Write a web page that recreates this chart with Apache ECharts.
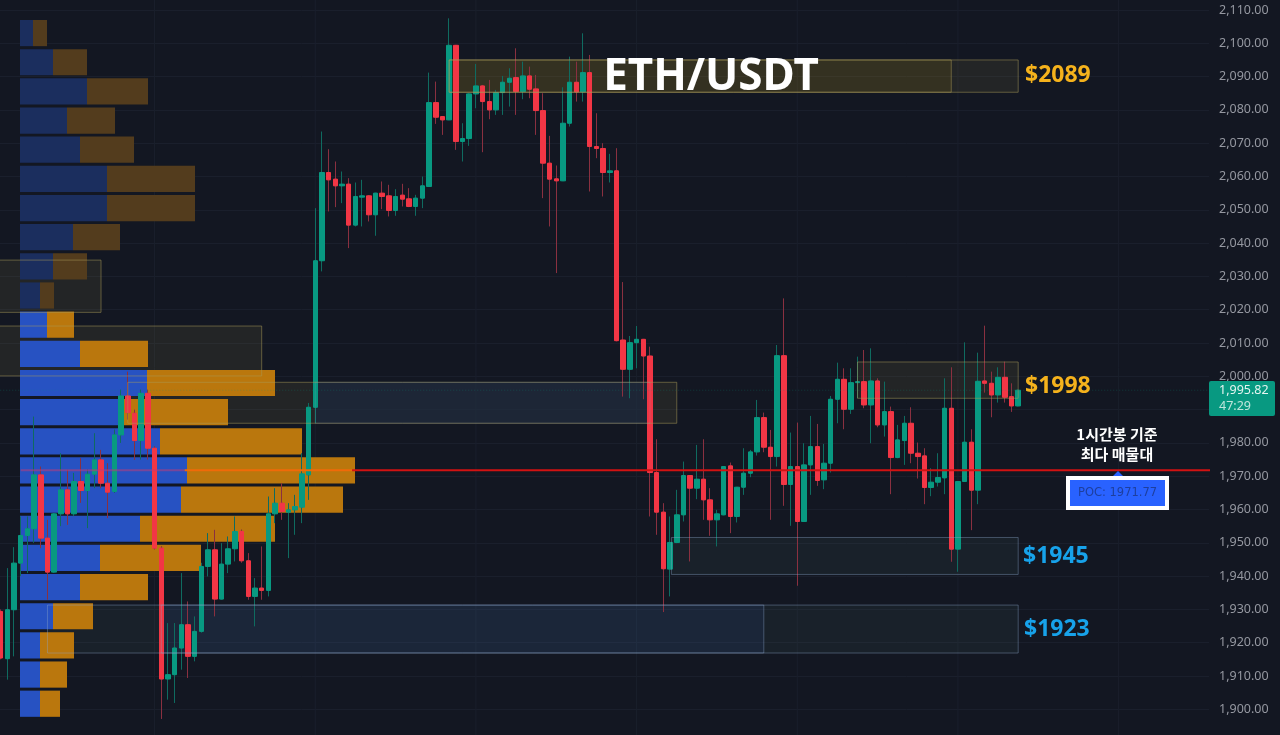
<!DOCTYPE html>
<html>
<head>
<meta charset="utf-8">
<style>html,body{margin:0;padding:0;background:#131722}#main{width:1280px;height:735px}</style>
<script src="https://cdn.jsdelivr.net/npm/echarts@6/dist/echarts.min.js"></script>
</head>
<body>
<div id="main"></div>
<script>
// 1h candles
var opens=[1929.4,1915.2,1929.9,1943.9,1952.2,1954.2,1970.4,1951.4,1941.2,1958.7,1965.9,1958.7,1968.4,1965.7,1970.6,1974.9,1967.9,1965.4,1982.4,1994.1,1988.9,1980.7,1994.9,1978.4,1948.4,1909.1,1910.4,1918.4,1925.4,1915.9,1923.4,1942.9,1947.9,1933.1,1943.6,1948.2,1953.4,1944.6,1933.9,1936.4,1935.7,1958.7,1961.9,1959.2,1959.9,1960.7,1970.4,1990.7,2034.7,2061.2,2059.2,2057.2,2057.7,2045.4,2053.8,2054.2,2048.5,2055,2054.2,2049.8,2054.4,2053.3,2051,2053.5,2057,2082.2,2078,2077,2099.4,2070.5,2071.4,2084.8,2087.2,2082.5,2080,2085.2,2088.3,2089.7,2085.5,2090.2,2086.3,2079.8,2064,2059.3,2058.7,2076,2088.3,2085.4,2091.2,2069,2068.4,2061.2,2061.7,2010.9,2002.1,2010.1,2011.1,2006.1,1971.1,1959.2,1942.1,1950.1,1958.4,1970.2,1966.4,1969.1,1962.9,1956.9,1958.4,1973.1,1957.9,1966.7,1970.9,1977.3,1987.6,1978.7,1975.9,2006.2,1967.5,1972.9,1956.4,1973.4,1978.9,1968.9,1973.9,1993.1,1999.1,1990.1,1998.1,1998.4,1991.4,1998.6,1985.4,1989.4,1975.6,1980.7,1985.9,1976.9,1976.1,1966.6,1968.2,1969.5,1990.4,1948.1,1968.4,1980.2,1965.8,1998.6,1997.9,1994.4,1999.7,1993.9,1991.1];
var closes=[1915.4,1929.9,1943.9,1952.2,1954.2,1970.4,1951.4,1941.2,1958.7,1965.9,1958.7,1968.4,1965.7,1970.6,1974.9,1967.9,1965.2,1982.4,1994.1,1989.1,1980.7,1994.9,1978.4,1948.4,1909.1,1910.4,1918.4,1925.4,1915.9,1923.4,1942.9,1947.9,1933.1,1943.6,1948.2,1953.4,1944.6,1933.9,1936.4,1935.7,1958.7,1961.9,1959.4,1959.9,1960.9,1970.7,1990.7,2034.7,2061.2,2059,2057.2,2057.7,2045.4,2054,2054.2,2048.5,2055,2054,2049.8,2054,2053.2,2051,2053.5,2057.2,2082.2,2077.8,2077,2099.4,2070.5,2071.4,2084.8,2087.2,2082.5,2080,2085.2,2088.3,2089.5,2085.5,2090.2,2086.2,2079.8,2064,2059.2,2058.7,2076,2088.3,2085.4,2091.2,2069,2068.4,2061.2,2061.7,2010.7,2002.1,2010.1,2011.1,2006.1,1971.1,1959.2,1942.2,1950.1,1958.4,1970.2,1966.4,1969.1,1962.9,1956.9,1958.7,1972.9,1957.9,1966.7,1970.9,1977.3,1987.6,1978.7,1975.9,2006.2,1967.5,1972.9,1956.4,1973.4,1978.9,1968.7,1973.9,1993.1,1999.1,1990.1,1998.1,1998.4,1991.4,1998.6,1985.4,1989.4,1975.6,1980.9,1985.9,1976.9,1975.9,1966.6,1968.2,1969.6,1990.4,1948.1,1968.4,1980.2,1965.8,1998.5,1997.9,1994.4,1999.7,1993.7,1991.1,1995.82];
var lows=[1915,1908.9,1915.9,1940,1940.9,1950,1948.4,1932.9,1941,1955,1955.4,1958,1962,1954.4,1966.4,1966.4,1957.4,1965,1980,1987,1974.9,1975,1975,1948,1897.1,1902.9,1901.9,1911.9,1909.4,1914.4,1923,1939.9,1927.9,1933,1940.9,1944.4,1944,1932.9,1924.9,1932.9,1933.9,1955.9,1956.9,1945.4,1952.4,1955.9,1962.9,1985.9,2031.5,2049.5,2050.8,2052,2038.5,2045,2045,2046.5,2042.2,2050.2,2048,2048.2,2051,2050.8,2048.2,2050.5,2057,2075.8,2072.5,2077,2068,2064.5,2069.2,2080.5,2067.3,2077.2,2078.5,2078.5,2081,2078.5,2083.2,2083.5,2072.5,2053.5,2045,2031,2058.7,2075,2082.5,2082.5,2055.5,2065.5,2054,2058.2,2010.5,1993.9,1993.4,2002.4,1993.1,1957.9,1952.4,1929.2,1933.9,1949.9,1956.4,1944.4,1963.1,1956.9,1952.1,1948.9,1958.3,1952.9,1956.1,1964.4,1969.7,1976.2,1977.2,1956.9,1972.9,1961.1,1955.1,1937.1,1956.3,1964.4,1967.1,1966.1,1971.1,1985.9,1984.1,1988.7,1993.4,1990.4,1979.9,1984.7,1981.9,1964.6,1975.4,1973.4,1973.9,1969.3,1961.6,1964,1966.9,1964.6,1944.3,1941.3,1968.3,1953.8,1961.6,1995.1,1987.7,1992.1,1992.1,1989.3,1991];
var highs=[1930,1942.4,1948.7,1957.9,1957.9,1987.9,1972.9,1956.9,1959,1976.9,1971.9,1971,1975.4,1972,1982.9,1977.9,1973.9,1984,1996,2001.4,1990,1996,1996,1979,1949,1925.9,1925.9,1940.9,1932.4,1927.9,1944,1952.9,1953.9,1949.9,1951.9,1957.9,1954,1946.9,1939.4,1948.9,1963.9,1966.4,1967.9,1961.9,1964.4,1976.9,1992,2050.5,2073.5,2068.2,2064.5,2061.5,2059.5,2058.2,2059,2054.4,2055,2058.5,2057.5,2056.2,2057.8,2056.5,2054.5,2060,2091.2,2088.5,2078,2107.5,2099.5,2076,2085,2093.8,2087.5,2089,2086,2090.2,2092.5,2098.5,2094.5,2093,2090.5,2085,2072.2,2063.3,2086.8,2096,2094.5,2103,2096.5,2079,2070,2066.8,2068.5,2028.3,2012.1,2015.1,2011.2,2008.9,1981.1,1961.9,1957.9,1965.9,1974.4,1970.2,1979.4,1981.1,1966.4,1959.9,1973,1974.1,1966.7,1978.4,1977.9,1992.9,1989.1,1983.9,2009.4,2023.4,1983.1,1986.1,1979.9,1988.1,1985.7,1979.7,1994.1,2004.1,2002.4,2002.4,2005.9,2007.9,2008.4,1999.4,1998.4,1990.9,1985.4,1988.1,1990.7,1980.1,1978.4,1972.4,1976.9,1999.4,2002.7,1968.5,2010.2,1984.1,2007.1,2015.2,2001.4,2002.7,2004.4,1997.9,1996];

// volume profile, top row first
var buyVol=[1.3,3.3,6.7,4.7,6,8.7,8.7,5.3,3.3,2,2.7,6,12.7,10.2,14,16.7,16.1,12,8,6,3.3,2,2,2];
var sellVol=[1.4,3.4,6.1,4.8,5.4,8.8,8.8,4.7,3.4,1.4,2.7,6.8,12.8,10.6,14.2,16.8,16.2,13.5,10.1,6.8,4,3.4,2.7,2];
var dimRows=10;

var yTicks=[2110,2100,2090,2080,2070,2060,2050,2040,2030,2020,2010,2000,1990,1980,1970,1960,1950,1940,1930,1920,1910,1900];
var sessionBars=[23,47,71,95,119,143,167];
var pocPrice=1971.77;
var lastPrice=1995.82;

// zones: start bar, end bar, top price, bottom price, kind (drawn in this order)
var zones=[
  [67,152,2095,2085.3,'yellow'],
  [67,142,2095,2085.3,'yellowInner'],
  [128,152,2004.3,1993.4,'yellow'],
  [-10,15,2034.9,2019.2,'yellow'],
  [-10,39,2015.1,2000.1,'yellow'],
  [19,101,1998.2,1985.9,'yellow'],
  [47,97,1998.2,1985.9,'blueMid'],
  [100.2,152,1951.6,1940.5,'blue'],
  [7,152,1931.3,1916.9,'blue'],
  [24,114,1931.3,1916.9,'blueInner']
];
var zoneFill={yellow:'rgba(150,135,70,.13)',yellowInner:'rgba(180,140,0,.12)',blue:'rgba(80,120,110,.11)',blueInner:'rgba(50,90,200,.1)',blueMid:'rgba(25,40,65,.6)'};
var zoneEdge={yellow:'rgba(170,155,90,.5)',yellowInner:'rgba(170,155,90,.5)',blue:'rgba(140,165,200,.4)',blueInner:'rgba(140,165,200,.4)',blueMid:'rgba(140,165,200,.2)'};
// poc line pieces in bar units: start, end, colour
var pocPieces=[[3,27.5,'rgba(190,60,120,.55)'],[27.5,52.5,'#f06a08'],[52.5,181,'#d21212']];

var categories=[];
for(var i=0;i<181;i++){categories.push(String(i));}
var rows=buyVol.map(function(v,i){return 'r'+i;});

var up='#089981',down='#f23645',upWick='#0f6b60',downWick='#8a3040';

var chart=echarts.init(document.getElementById('main'));

function segStyle(color,width,dash){return {stroke:color,lineWidth:width,lineDash:dash||null};}
function zoneRect(api,z){
  var a=api.coord([z[0],z[2]]),b=api.coord([z[1],z[3]]);
  return {x:a[0],y:a[1],width:b[0]-a[0],height:b[1]-a[1]};
}

chart.setOption({
  animation:false,
  backgroundColor:'#131722',
  grid:[
    {left:-2.75,width:1211.75,top:-23.3,height:765.9,outerBoundsMode:'none'},
    {left:20,width:1189,top:18.5,height:699.8,outerBoundsMode:'none'}
  ],
  xAxis:[
    {type:'category',gridIndex:0,data:categories,axisLine:{show:false},axisTick:{show:false},axisLabel:{show:false},splitLine:{show:false}},
    {type:'value',gridIndex:0,min:-0.5,max:180.5,show:false},
    {type:'value',gridIndex:1,min:0,max:118.9,show:false}
  ],
  yAxis:[
    {type:'value',gridIndex:0,position:'right',min:1890,max:2120,interval:10,
      axisLine:{show:false},axisTick:{show:false},
      axisLabel:{color:'#9598a1',fontFamily:'Noto Sans',fontSize:12.5,margin:10,
        formatter:function(v){
          if(yTicks.indexOf(v)<0){return '';}
          return v.toLocaleString('en-US',{minimumFractionDigits:2,maximumFractionDigits:2});
        }},
      splitLine:{lineStyle:{color:'#1a1f2c',width:1}}},
    {type:'category',gridIndex:1,inverse:true,data:rows,show:false}
  ],
  series:[
    {name:'sessions',type:'custom',xAxisIndex:1,yAxisIndex:0,z:1,silent:true,clip:true,
      data:sessionBars.map(function(b){return [b];}),
      encode:{x:0},
      renderItem:function(params,api){
        var a=api.coord([api.value(0),2120]),b=api.coord([api.value(0),1890]);
        return {type:'line',shape:{x1:a[0],y1:a[1],x2:b[0],y2:b[1]},style:segStyle('#1a1f2c',1)};
      }},
    {name:'zone fills',type:'custom',xAxisIndex:1,yAxisIndex:0,z:1.5,silent:true,clip:true,
      data:zones,
      encode:{x:[0,1],y:[2,3]},
      renderItem:function(params,api){
        var z=zones[params.dataIndex];
        return {type:'rect',shape:zoneRect(api,z),style:{fill:zoneFill[z[4]]}};
      }},
    {name:'buy volume',type:'bar',xAxisIndex:2,yAxisIndex:1,stack:'vol',barWidth:26.2,z:2,silent:true,
      data:buyVol.map(function(v,i){return {value:v,itemStyle:{color:i<dimRows?'#1b2e5e':'#2752c2'}};})},
    {name:'sell volume',type:'bar',xAxisIndex:2,yAxisIndex:1,stack:'vol',barWidth:26.2,z:2,silent:true,
      data:sellVol.map(function(v,i){return {value:v,itemStyle:{color:i<dimRows?'#533c1d':'#ba770d'}};})},
    {name:'wicks',type:'candlestick',xAxisIndex:0,yAxisIndex:0,barWidth:2,z:3,silent:true,
      itemStyle:{color:upWick,color0:downWick,borderColor:upWick,borderColor0:downWick,borderWidth:1},
      data:opens.map(function(o,i){return [o,closes[i],lows[i],highs[i]];})},
    {name:'bodies',type:'candlestick',xAxisIndex:0,yAxisIndex:0,barWidth:5,z:4,silent:true,
      itemStyle:{color:up,color0:down,borderColor:up,borderColor0:down,borderWidth:1},
      data:opens.map(function(o,i){return [o,closes[i],Math.min(o,closes[i]),Math.max(o,closes[i])];})},
    {name:'zone edges',type:'custom',xAxisIndex:1,yAxisIndex:0,z:5,silent:true,clip:true,
      data:zones,
      encode:{x:[0,1],y:[2,3]},
      renderItem:function(params,api){
        var z=zones[params.dataIndex];
        return {type:'rect',shape:zoneRect(api,z),style:{fill:'none',stroke:zoneEdge[z[4]],lineWidth:1}};
      }},
    {name:'POC',type:'custom',xAxisIndex:1,yAxisIndex:0,z:6,silent:true,clip:true,
      data:pocPieces,
      encode:{x:[0,1]},
      renderItem:function(params,api){
        var p=pocPieces[params.dataIndex];
        var a=api.coord([p[0],pocPrice]),b=api.coord([p[1],pocPrice]);
        return {type:'line',shape:{x1:a[0],y1:a[1],x2:b[0],y2:b[1]},style:segStyle(p[2],2)};
      }},
    {name:'last',type:'custom',xAxisIndex:1,yAxisIndex:0,z:6,silent:true,clip:true,
      data:[[152.5,180.5]],
      encode:{x:[0,1]},
      renderItem:function(params,api){
        var a=api.coord([-0.5,lastPrice]),b=api.coord([180.5,lastPrice]);
        return {type:'line',shape:{x1:a[0],y1:a[1],x2:b[0],y2:b[1]},style:segStyle('rgba(8,153,129,.28)',1,[1,2])};
      }}
  ],
  graphic:[
    {type:'text',z:20,x:711,y:77,style:{text:'ETH/USDT',fill:'#fff',font:'bold 44px "Noto Sans"',align:'center',verticalAlign:'middle'}},
    {type:'text',z:20,x:1025,y:75,style:{text:'$2089',fill:'#f5b21c',font:'bold 23px "Noto Sans"',verticalAlign:'middle'}},
    {type:'text',z:20,x:1025,y:386,style:{text:'$1998',fill:'#f5b21c',font:'bold 23px "Noto Sans"',verticalAlign:'middle'}},
    {type:'text',z:20,x:1023,y:556,style:{text:'$1945',fill:'#17a2ea',font:'bold 23px "Noto Sans"',verticalAlign:'middle'}},
    {type:'text',z:20,x:1024,y:629,style:{text:'$1923',fill:'#17a2ea',font:'bold 23px "Noto Sans"',verticalAlign:'middle'}},
    {type:'text',z:20,x:1117,y:434,style:{text:'1시간봉 기준',fill:'#fff',font:'bold 15px "Noto Sans CJK KR"',align:'center',verticalAlign:'middle'}},
    {type:'text',z:20,x:1117,y:454,style:{text:'최다 매물대',fill:'#fff',font:'bold 15px "Noto Sans CJK KR"',align:'center',verticalAlign:'middle'}},
    {type:'polygon',z:20,shape:{points:[[1118,471],[1113,476],[1123,476]]},style:{fill:'#2962ff'}},
    {type:'rect',z:20,shape:{x:1068,y:478,width:99,height:30},style:{fill:'#2962ff',stroke:'#fff',lineWidth:4}},
    {type:'text',z:21,x:1117.5,y:493,style:{text:'POC: 1971.77',fill:'#1e3f9e',font:'11.5px "DejaVu Sans"',align:'center',verticalAlign:'middle'}},
    {type:'rect',z:20,shape:{x:1209,y:381,width:66,height:35,r:2},style:{fill:'#089981'}},
    {type:'text',z:21,x:1219,y:390.5,style:{text:'1,995.82',fill:'#e6f5f1',font:'12.5px "Noto Sans"',verticalAlign:'middle'}},
    {type:'text',z:21,x:1219,y:406,style:{text:'47:29',fill:'#bfe5dc',font:'12.5px "Noto Sans"',verticalAlign:'middle'}}
  ]
});
</script>
</body>
</html>
